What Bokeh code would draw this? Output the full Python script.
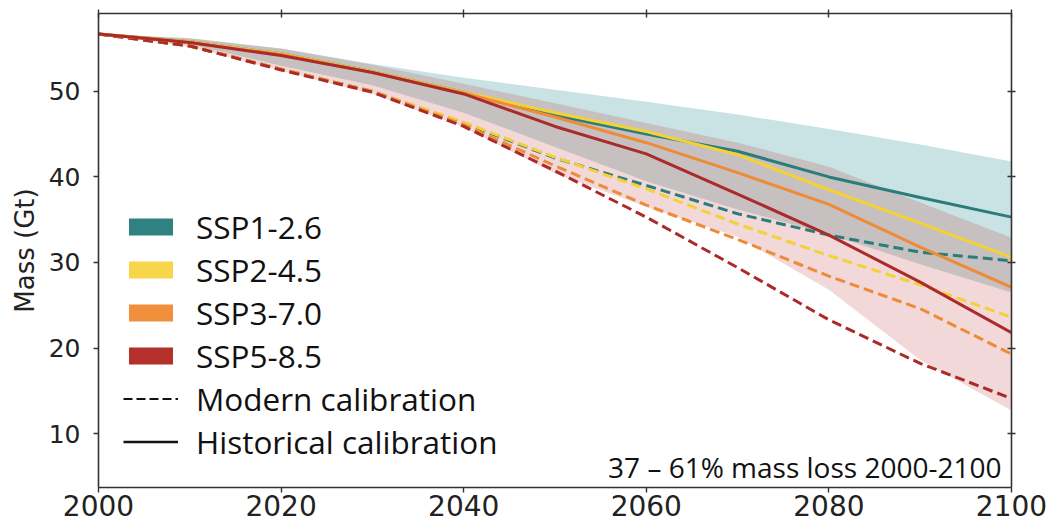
from bokeh.plotting import figure
from bokeh.models import (ColumnDataSource, Legend, LegendItem, LinearAxis,
                          FixedTicker, Label, CustomLabelingPolicy)
from bokeh.embed import file_html
from bokeh.resources import INLINE

# ---------------- data ----------------
years = [2000, 2010, 2020, 2030, 2040, 2050, 2060, 2070, 2080, 2090, 2100]
scenarios = ["SSP1-2.6", "SSP2-4.5", "SSP3-7.0", "SSP5-8.5"]

# historical calibration (solid)
hist_ssp126 = [56.7, 55.8, 54.4, 52.3, 49.9, 47.2, 45.0, 43.0, 40.0, 37.6, 35.3]
hist_ssp245 = [56.7, 55.8, 54.4, 52.3, 49.9, 47.5, 45.3, 42.6, 38.5, 34.6, 30.6]
hist_ssp370 = [56.7, 55.7, 54.3, 52.2, 49.8, 47.0, 44.0, 40.5, 36.8, 31.8, 27.1]
hist_ssp585 = [56.7, 55.7, 54.2, 52.2, 49.7, 45.9, 42.7, 38.0, 33.2, 27.7, 21.8]

# modern calibration (dashed)
mod_ssp126 = [56.7, 55.3, 52.6, 50.0, 46.3, 42.2, 39.0, 35.7, 33.2, 31.2, 30.2]
mod_ssp245 = [56.7, 55.3, 52.6, 50.0, 46.4, 42.3, 38.6, 34.5, 30.8, 27.4, 23.6]
mod_ssp370 = [56.7, 55.3, 52.6, 50.0, 46.1, 41.3, 36.7, 32.7, 28.4, 24.6, 19.3]
mod_ssp585 = [56.7, 55.3, 52.5, 49.9, 45.9, 40.7, 35.3, 29.4, 23.3, 18.2, 14.1]

# uncertainty ranges
band_ssp126_upper = [56.7, 56.2, 55.0, 53.2, 51.6, 50.2, 48.8, 47.3, 45.6, 43.8, 41.8]
band_ssp126_lower = [56.7, 55.5, 53.0, 50.7, 47.5, 43.5, 39.5, 36.2, 33.3, 29.8, 26.5]
band_ssp585_upper = [56.7, 56.2, 55.0, 53.1, 50.9, 48.6, 46.3, 44.0, 41.2, 37.0, 32.9]
band_ssp585_lower = [56.7, 55.2, 52.4, 49.7, 45.8, 40.4, 36.5, 33.0, 26.8, 18.6, 12.7]

x_ticks = [2000, 2020, 2040, 2060, 2080, 2100]
y_ticks = [10, 20, 30, 40, 50]

annotation = "37 \u2013 61% mass loss 2000-2100"
legend_modern = "Modern calibration"
legend_hist = "Historical calibration"

# ---------------- style ----------------
line_colors = ["#2b7d7b", "#f4d236", "#ee8b36", "#ab2b2a"]
patch_colors = ["#2f8281", "#f8d64b", "#f0903d", "#b3302b"]
AX = "#333333"
TICK_FONT = "DejaVu Sans"
LEG_FONT = "Open Sans"

p = figure(width=1058, height=528, x_range=(2000, 2100), y_range=(3.7, 59.1),
           output_backend="svg", toolbar_location=None,
           min_border_left=98, min_border_right=47, min_border_top=13,
           min_border_bottom=41)
p.xgrid.visible = False
p.ygrid.visible = False
p.outline_line_color = None
p.background_fill_color = "white"
p.border_fill_color = "white"

src = ColumnDataSource(dict(
    year=years,
    h1=hist_ssp126, h2=hist_ssp245, h3=hist_ssp370, h5=hist_ssp585,
    m1=mod_ssp126, m2=mod_ssp245, m3=mod_ssp370, m5=mod_ssp585,
    b1u=band_ssp126_upper, b1l=band_ssp126_lower,
    b5u=band_ssp585_upper, b5l=band_ssp585_lower,
))

# bands
p.varea(x="year", y1="b1l", y2="b1u", source=src, fill_color="#2f8f94", fill_alpha=0.26)
p.varea(x="year", y1="b5l", y2="b5u", source=src, fill_color="#c03a3a", fill_alpha=0.2)

# dashed (modern)
for col, c in zip(["m1", "m2", "m3", "m5"], line_colors):
    p.line(x="year", y=col, source=src, line_color=c, line_width=3,
           line_dash="10 5", line_join="round")
# solid (historical)
for col, c in zip(["h1", "h2", "h3", "h5"], line_colors):
    p.line(x="year", y=col, source=src, line_color=c, line_width=3,
           line_join="round")

# axes
for ax in (p.xaxis[0], p.yaxis[0]):
    ax.axis_line_color = AX
    ax.axis_line_width = 1.6
    ax.major_tick_line_color = AX
    ax.major_tick_line_width = 1.4
    ax.minor_tick_line_color = None
    ax.major_tick_in = 0
    ax.major_tick_out = 5
    ax.major_label_text_font = TICK_FONT
    ax.major_label_text_color = "#222222"

p.xaxis.ticker = FixedTicker(ticks=x_ticks)
p.yaxis.ticker = FixedTicker(ticks=y_ticks)
p.xaxis.major_label_text_font_size = "28px"
p.yaxis.major_label_text_font_size = "25px"
p.xaxis.major_label_standoff = 2
p.yaxis.major_label_standoff = 13
p.yaxis.axis_label = "Mass (Gt)"
p.yaxis.axis_label_text_font = TICK_FONT
p.yaxis.axis_label_text_font_size = "26px"
p.yaxis.axis_label_text_font_style = "normal"
p.yaxis.axis_label_text_color = "#222222"
p.yaxis.axis_label_standoff = 6

no_labels = CustomLabelingPolicy(code="return new Set()")
top_ax = LinearAxis(ticker=FixedTicker(ticks=x_ticks))
right_ax = LinearAxis(ticker=FixedTicker(ticks=y_ticks))
for ax in (top_ax, right_ax):
    ax.axis_line_color = AX
    ax.axis_line_width = 1.6
    ax.major_tick_line_color = AX
    ax.major_tick_line_width = 1.4
    ax.minor_tick_line_color = None
    ax.major_tick_in = 4
    ax.major_tick_out = 4
    ax.major_label_policy = no_labels
    ax.major_label_text_font_size = "8px"
    ax.major_label_standoff = 0
p.add_layout(top_ax, "above")
p.add_layout(right_ax, "right")

# legend proxies (NaN geometry: nothing drawn in the plot area)
nan = float("nan")
proxy = ColumnDataSource(dict(name=scenarios, color=patch_colors,
                              v=[nan] * len(scenarios)))
rq = p.quad(left="v", right="v", top="v", bottom="v", source=proxy,
            fill_color="color", line_color=None)
items = [LegendItem(label=n, renderers=[rq], index=i)
         for i, n in enumerate(scenarios)]
lsrc = ColumnDataSource(dict(x=[nan], y=[nan]))
rd = p.line(x="x", y="y", source=lsrc, line_color="#111111", line_width=1.8,
            line_dash="9 4")
items.append(LegendItem(label=legend_modern, renderers=[rd]))
rs = p.line(x="x", y="y", source=lsrc, line_color="#111111", line_width=2.5)
items.append(LegendItem(label=legend_hist, renderers=[rs]))

legend = Legend(items=items, location=(25, 24), orientation="vertical",
                glyph_width=55, glyph_height=21, label_height=42,
                label_standoff=18, spacing=0, padding=0, margin=0,
                label_text_font=LEG_FONT, label_text_font_size="31.5px",
                label_text_color="#111111",
                background_fill_color="white", background_fill_alpha=1.0,
                border_line_color=None)
p.add_layout(legend, "center")

lab = Label(x=2100, y=21, x_units="data", y_units="screen", x_offset=-10,
            text=annotation, text_align="right", text_baseline="alphabetic",
            text_font=LEG_FONT, text_font_size="28px", text_color="#111111")
p.add_layout(lab)

open("out.html", "w").write(file_html(p, INLINE))
